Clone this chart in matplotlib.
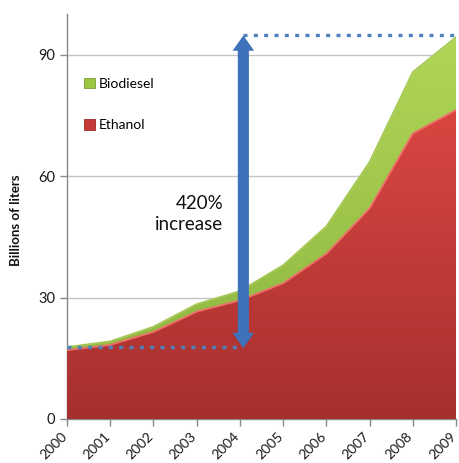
import numpy as np
import matplotlib
matplotlib.use("Agg")
import matplotlib.pyplot as plt
import matplotlib.patches as mpatches
import matplotlib.transforms as mtransforms
from matplotlib.colors import LinearSegmentedColormap

plt.rcParams['font.family'] = ['Lato', 'DejaVu Sans']

# World biofuel production, billions of liters
years = [2000, 2001, 2002, 2003, 2004, 2005, 2006, 2007, 2008, 2009]
ethanol = [17.0, 18.3, 21.5, 26.5, 29.3, 33.5, 40.8, 52.0, 70.5, 76.3]
biodiesel = [0.8, 0.9, 1.3, 1.9, 2.3, 4.5, 6.8, 11.5, 15.2, 18.0]
y_ticks = [0, 30, 60, 90]
series_labels = ["Biodiesel", "Ethanol"]
callout = "420%\nincrease"
y_label = "Billions of liters"

ethanol_arr = np.array(ethanol)
total = ethanol_arr + np.array(biodiesel)

fig = plt.figure(figsize=(4.59, 4.63), dpi=100)
ax = fig.add_axes([67 / 459, 44 / 463, (456 - 67) / 459, (419 - 14) / 463])


def gradient_area(x, lower, upper, top_color, bottom_color, z):
    poly = ax.fill_between(x, lower, upper, facecolor='none',
                           edgecolor='none', zorder=z)
    cmap = LinearSegmentedColormap.from_list('grad', [bottom_color, top_color])
    grad = np.linspace(0, 1, 256).reshape(-1, 1)
    im = ax.imshow(grad, cmap=cmap, aspect='auto', origin='lower',
                   extent=[x[0], x[-1], 0, float(np.max(upper))],
                   zorder=z, interpolation='bilinear')
    im.set_clip_path(poly.get_paths()[0], transform=ax.transData)
    return poly


gradient_area(years, ethanol_arr, total, '#b0d656', '#8ab23e', 2)
gradient_area(years, np.zeros_like(ethanol_arr), ethanol_arr,
              '#da4642', '#a5302e', 3)
ax.plot(years, total, color='#bcdc70', lw=1.2, zorder=4)
ax.plot(years, total, color='#7f9f38', lw=0.6, zorder=4, alpha=0.5)
ax.plot(years, ethanol_arr, color='#f0706a', lw=1.3, zorder=4)

ax.set_xlim(years[0], years[-1])
ax.set_ylim(0, 100)

# horizontal gridlines
ax.set_yticks(y_ticks)
ax.yaxis.grid(True, color='#c4c4c4', lw=1.0)
ax.set_axisbelow(True)

ax.set_xticks(years)
ax.set_xticklabels([str(y) for y in years], rotation=45, ha='right')
ax.tick_params(axis='both', direction='out', length=5, width=1,
               color='#888888', labelsize=10.5, labelcolor='#1a1a1a')
ax.tick_params(axis='x', labelsize=10, pad=3)
shift = mtransforms.ScaledTranslation(2 / 100, 0, fig.dpi_scale_trans)
for lab in ax.get_xticklabels():
    lab.set_transform(lab.get_transform() + shift)
for s in ('top', 'right'):
    ax.spines[s].set_visible(False)
for s in ('left', 'bottom'):
    ax.spines[s].set_color('#888888')
    ax.spines[s].set_linewidth(1.0)

ax.set_ylabel(y_label, fontweight='bold', fontsize=9.5, color='#111111')
ax.yaxis.set_label_coords(-0.115, 0.49)

# legend
handles = [mpatches.Patch(facecolor='#9cc640', edgecolor='#7a9c30', lw=0.6),
           mpatches.Patch(facecolor='#c63a38', edgecolor='#9a2a28', lw=0.6)]
ax.legend(handles, series_labels, loc='upper left',
          bbox_to_anchor=(0.043, 0.843), frameon=False, fontsize=10,
          handlelength=0.8, handleheight=0.8, handletextpad=0.25,
          labelspacing=2.1, borderpad=0, borderaxespad=0)

# increase callout: dotted reference levels and double arrow
arrow_year = 2004.08
blue = '#4f81bd'
ax.plot([years[0], arrow_year], [total[0], total[0]], color=blue, lw=2.4,
        linestyle=(0, (1.2, 1.9)), dash_capstyle='butt', zorder=6,
        clip_on=False)
ax.plot([arrow_year, years[-1]], [total[-1] + 0.4, total[-1] + 0.4],
        color=blue, lw=2.4, linestyle=(0, (1.2, 1.9)), dash_capstyle='butt',
        zorder=6, clip_on=False)

mid = (total[0] + total[-1]) / 2
for end in (total[0] - 0.3, total[-1] + 0.4):
    arr = mpatches.FancyArrowPatch(
        (arrow_year, mid), (arrow_year, end),
        arrowstyle='simple,head_length=1.1,head_width=1.55,tail_width=0.8',
        mutation_scale=10, facecolor='#3e72ba', edgecolor='none',
        lw=0, shrinkA=0, shrinkB=0, zorder=7, clip_on=False)
    ax.add_patch(arr)

ax.text(2003.61, 50.6, callout, ha='right', va='center', fontsize=13.5,
        linespacing=1.25, color='#111111', zorder=8)

fig.savefig('out.png', dpi=100)
